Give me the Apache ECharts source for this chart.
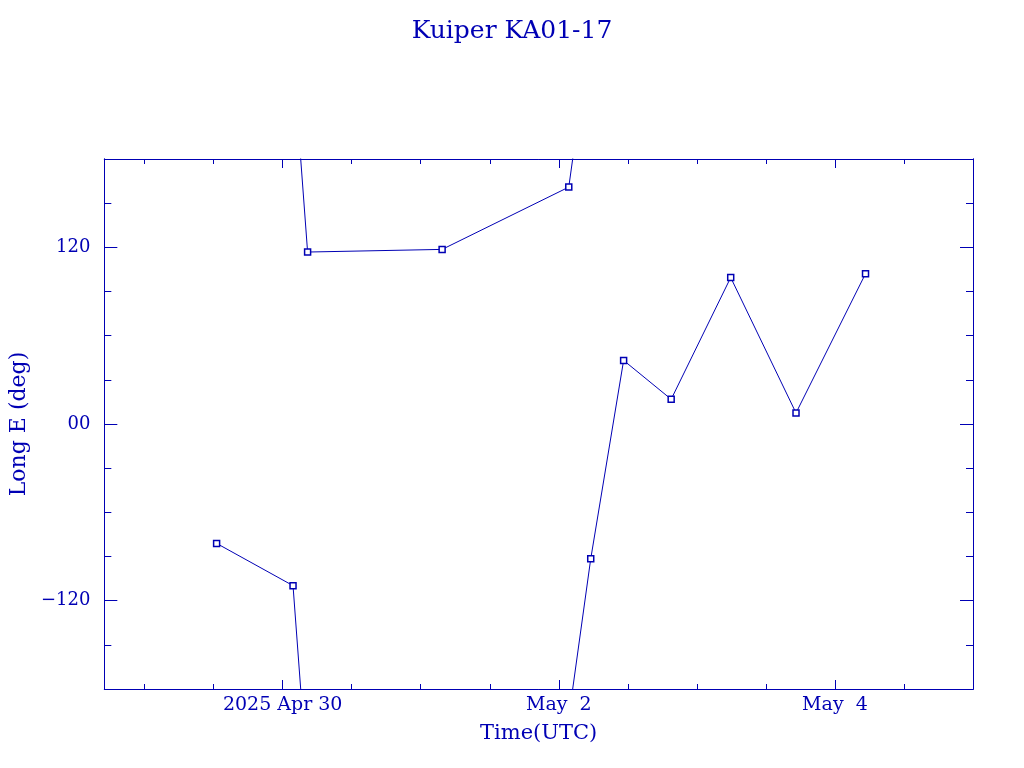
<!DOCTYPE html>
<html><head><meta charset="utf-8">
<script src="https://cdn.jsdelivr.net/npm/echarts@6/dist/echarts.min.js"></script>
<style>html,body{margin:0;padding:0;background:#fff}#c{width:1024px;height:768px}</style>
</head><body><div id="c"></div>
<script>
const chartTitle = 'Kuiper KA01-17';
const xAxisName = 'Time(UTC)';
const yAxisName = 'Long E (deg)';
// observation times (UTC) and east longitude (deg)
const times = ['2025-04-29T12:31Z','2025-04-30T01:48Z','2025-04-30T04:20Z','2025-05-01T03:43Z',
  '2025-05-02T01:44Z','2025-05-02T05:33Z','2025-05-02T11:16Z','2025-05-02T19:32Z',
  '2025-05-03T05:53Z','2025-05-03T17:14Z','2025-05-04T05:19Z'];
const longitudes = [-81.1, -109.8, 116.8, 118.6, 160.9, -91.6, 43.2, 16.8, 99.5, 7.5, 102.1];
const xRange = ['2025-04-28T17:00Z', '2025-05-05T00:00Z'];
const xMajorTicks = ['2025-04-30T00:00Z','2025-05-02T00:00Z','2025-05-04T00:00Z'];
const xTickLabels = ['2025 Apr 30','May  2','May  4'];
const xMinorTicks = ['2025-04-29T00:00Z','2025-04-29T12:00Z','2025-04-30T12:00Z','2025-05-01T00:00Z',
  '2025-05-01T12:00Z','2025-05-02T12:00Z','2025-05-03T00:00Z','2025-05-03T12:00Z','2025-05-04T12:00Z'];
const yRange = [-180, 180];
const yMajorTicks = [-120, 0, 120];
const yTickLabels = ['\u2212120', '00', '120'];
const yMinorTicks = [-150, -90, -60, -30, 30, 60, 90, 150];

const C = '#0000b4';
const FONT = 'DejaVu Serif';
const ts = s => Date.parse(s);

// unwrap longitudes so the track crosses the +/-180 edge continuously; copies shifted by 360 get clipped by the grid
const unwrapped = [];
longitudes.forEach((v, i) => {
  if (i === 0) { unwrapped.push(v); return; }
  let u = v;
  const prev = unwrapped[i - 1];
  while (u - prev > 180) u -= 360;
  while (u - prev < -180) u += 360;
  unwrapped.push(u);
});
const series = [-360, 0, 360].map(off => ({
  type: 'line',
  xAxisIndex: 0, yAxisIndex: 0,
  data: times.map((t, i) => [ts(t), unwrapped[i] + off]),
  clip: true,
  symbol: 'rect', symbolSize: 6,
  itemStyle: { color: '#fff', borderColor: C, borderWidth: 1.5 },
  lineStyle: { color: C, width: 1 },
  emphasis: { disabled: true },
  silent: true
}));

const xMin = ts(xRange[0]), xMax = ts(xRange[1]);
const xMajorVals = xMajorTicks.map(ts);
function xAx(pos, ticks, len, labels) {
  return {
    type: 'value', gridIndex: 0, position: pos, min: xMin, max: xMax, scale: true,
    axisLine: { show: true, onZero: false, lineStyle: { color: C, width: 1 } },
    axisTick: { show: true, inside: true, length: len, lineStyle: { color: C, width: 1 }, customValues: ticks.map(ts) },
    axisLabel: labels ? {
      show: true, customValues: xMajorVals, color: C, fontFamily: FONT, fontSize: 19, margin: 7,
      formatter: v => { const k = xMajorVals.indexOf(v); return k >= 0 ? xTickLabels[k] : ''; }
    } : { show: false },
    splitLine: { show: false },
    name: labels ? xAxisName : '', nameLocation: 'middle', nameGap: 34,
    nameTextStyle: { color: C, fontFamily: FONT, fontSize: 21 }
  };
}
function yAx(pos, ticks, len, labels) {
  return {
    type: 'value', gridIndex: 0, position: pos, min: yRange[0], max: yRange[1],
    axisLine: { show: true, onZero: false, lineStyle: { color: C, width: 1 } },
    axisTick: { show: true, inside: true, length: len, lineStyle: { color: C, width: 1 }, customValues: ticks },
    axisLabel: labels ? {
      show: true, customValues: yMajorTicks, color: C, fontFamily: FONT, fontSize: 18, margin: 14,
      formatter: v => { const k = yMajorTicks.indexOf(v); return k >= 0 ? yTickLabels[k] : ''; }
    } : { show: false },
    splitLine: { show: false },
    name: labels ? yAxisName : '', nameLocation: 'middle', nameGap: 74, nameRotate: 90,
    nameTextStyle: { color: C, fontFamily: FONT, fontSize: 22 }
  };
}

const chart = echarts.init(document.getElementById('c'), null, { renderer: 'canvas' });
chart.setOption({
  animation: false,
  backgroundColor: '#fff',
  title: { text: chartTitle, left: 'center', top: 14,
    textStyle: { color: C, fontFamily: FONT, fontSize: 25, fontWeight: 'normal' } },
  grid: { left: 102, right: 51, top: 159, bottom: 79, containLabel: false },
  xAxis: [
    xAx('bottom', xMajorTicks, 9, true),
    xAx('bottom', xMinorTicks, 5, false),
    xAx('top', xMajorTicks, 9, false),
    xAx('top', xMinorTicks, 5, false)
  ],
  yAxis: [
    yAx('left', yMajorTicks, 13, true),
    yAx('left', yMinorTicks, 7, false),
    yAx('right', yMajorTicks, 13, false),
    yAx('right', yMinorTicks, 7, false)
  ],
  series: series
});
</script></body></html>
